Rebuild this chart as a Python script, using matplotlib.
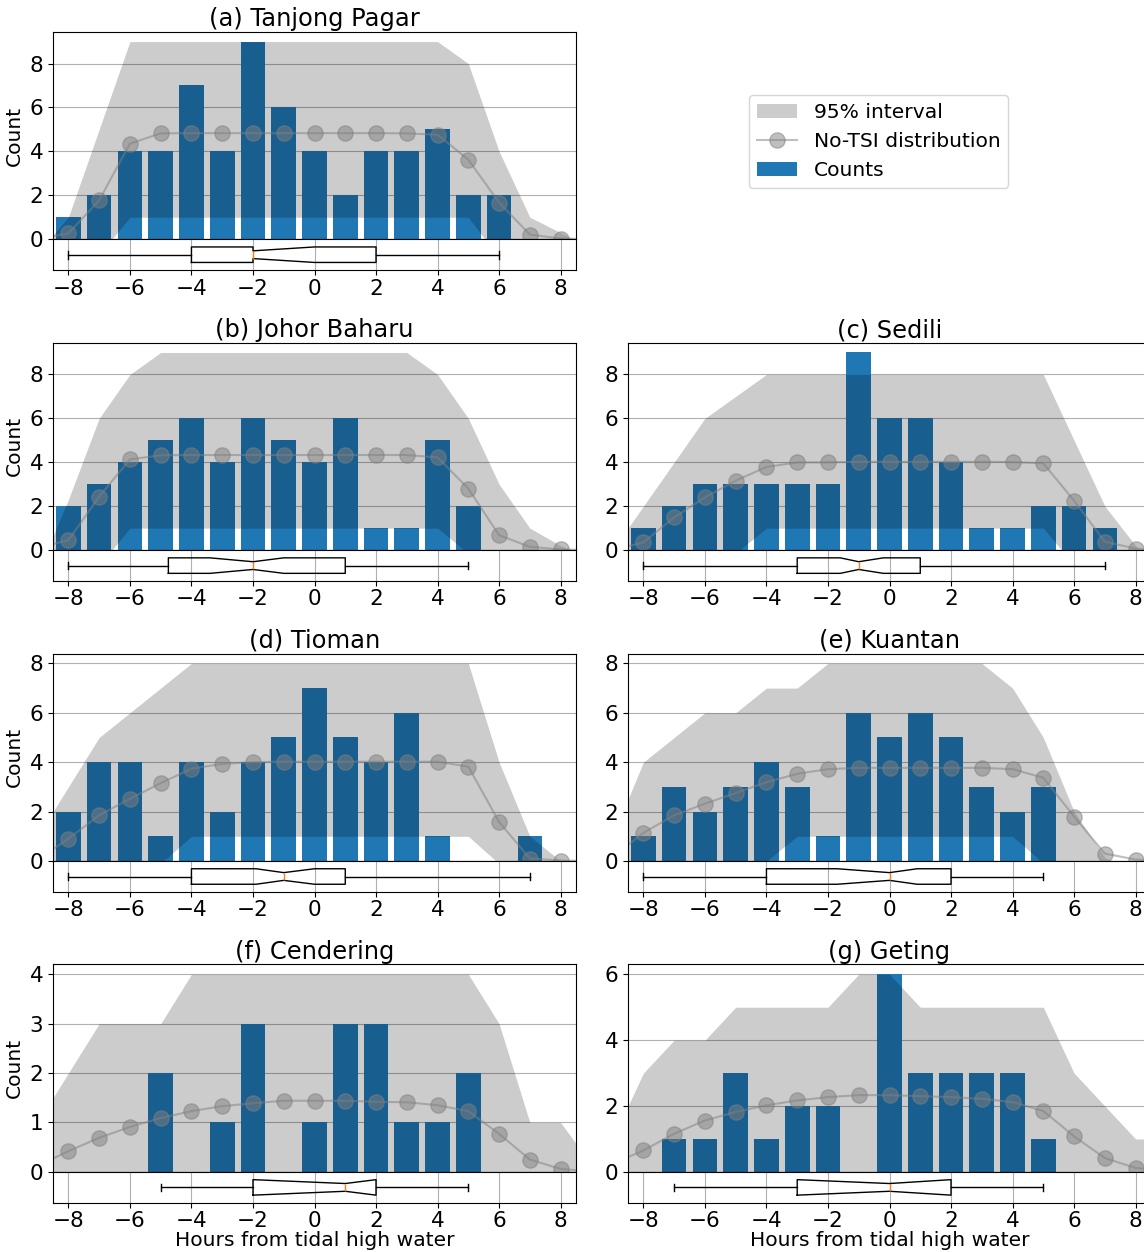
import matplotlib.pyplot as plt
import numpy as np
from matplotlib.lines import Line2D
from matplotlib.patches import Patch
from matplotlib.ticker import MaxNLocator

plt.rcParams["font.size"] = 14.6
plt.rcParams["xtick.labelsize"] = 15.5
plt.rcParams["ytick.labelsize"] = 15.5

# hour grid for the interval / no-TSI curve, and for the observed counts
HOURS = np.arange(-9, 10)
BAR_HOURS = np.arange(-8, 9)

titles = ["(a) Tanjong Pagar", "(b) Johor Baharu", "(c) Sedili", "(d) Tioman",
          "(e) Kuantan", "(f) Cendering", "(g) Geting"]

# observed counts, hours -8 .. 8
counts_a = [1, 2, 4, 4, 7, 4, 9, 6, 4, 2, 4, 4, 5, 2, 2, 0, 0]
counts_b = [2, 3, 4, 5, 6, 4, 6, 5, 4, 6, 1, 1, 5, 2, 0, 0, 0]
counts_c = [1, 2, 3, 3, 3, 3, 3, 9, 6, 6, 4, 1, 1, 2, 2, 1, 0]
counts_d = [2, 4, 4, 1, 4, 2, 4, 5, 7, 5, 4, 6, 1, 0, 0, 1, 0]
counts_e = [1, 3, 2, 3, 4, 3, 1, 6, 5, 6, 5, 3, 2, 3, 0, 0, 0]
counts_f = [0, 0, 0, 2, 0, 1, 3, 0, 1, 3, 3, 1, 1, 2, 0, 0, 0]
counts_g = [0, 1, 1, 3, 1, 2, 2, 0, 6, 3, 3, 3, 3, 1, 0, 0, 0]

# 95% interval bounds, hours -9 .. 9
upper_a = [-0.6, 1, 5, 9, 9, 9, 9, 9, 9, 9, 9, 9, 9, 9, 8, 4, 1, 0.3, -0.4]
upper_b = [-1, 2.3, 6, 8, 9, 9, 9, 9, 9, 9, 9, 9, 9, 8, 6, 3, 1, 0.2, -0.3]
upper_c = [0, 2, 4, 6, 7, 8, 8, 8, 8, 8, 8, 8, 8, 8, 8, 5, 2, 0.2, -1.5]
upper_d = [1, 3, 5, 6, 7, 8, 8, 8, 8, 8, 8, 8, 8, 8, 8, 4, 1, 0, -0.5]
upper_e = [1, 4, 5, 6, 6, 7, 7, 8, 8, 8, 8, 8, 8, 7, 5, 2, 0.15, -0.5, -1]
upper_f = [1, 2, 3, 3, 3, 4, 4, 4, 4, 4, 4, 4, 4, 4, 4, 3, 1, 1, 0.15]
upper_g = [1, 3, 4, 4, 5, 5, 5, 5, 6, 6, 5, 5, 5, 5, 5, 3, 2, 1, 1]

lower_a = [0, 0, -0.7, 1, 1, 1, 1, 1, 1, 1, 1, 1, 1, 1, 1, -0.85, 0, 0, 0]
lower_b = [0, 0, -0.7, 1, 1, 1, 1, 1, 1, 1, 1, 1, 1, 1, -0.16, 0, 0, 0, 0]
lower_c = [0, 0, 0, 0, -0.14, 1, 1, 1, 1, 1, 1, 1, 1, 1, 1, -0.67, 0, 0, 0]
lower_d = [0, 0, 0, 0, -0.1, 1, 1, 1, 1, 1, 1, 1, 1, 1, 1, -0.11, 0, 0, 0]
lower_e = [0, 0, 0, 0, 0, 0, 1, 1, 1, 1, 1, 1, 1, 1, -0.09, 0, 0, 0, 0]
lower_f = [0] * 19
lower_g = [0] * 19

# expected counts without tide-surge interaction, hours -9 .. 9
notsi_a = [0.02, 0.26, 1.77, 4.35, 4.82, 4.83, 4.83, 4.83, 4.83, 4.83,
           4.83, 4.83, 4.82, 4.76, 3.62, 1.67, 0.21, 0.03, 0.0]
notsi_b = [0.1, 0.45, 2.43, 4.13, 4.32, 4.33, 4.33, 4.33, 4.33, 4.33,
           4.33, 4.33, 4.33, 4.22, 2.8, 0.68, 0.15, 0.03, 0.0]
notsi_c = [0.0, 0.35, 1.49, 2.4, 3.16, 3.79, 3.99, 4.0, 4.02, 4.02,
           4.02, 4.02, 4.02, 4.01, 3.95, 2.25, 0.38, 0.07, 0.0]
notsi_d = [0.05, 0.9, 1.85, 2.52, 3.15, 3.74, 3.93, 4.0, 4.02, 4.02,
           4.02, 4.02, 4.02, 4.02, 3.82, 1.58, 0.1, 0.02, 0.0]
notsi_e = [0.15, 1.14, 1.85, 2.32, 2.75, 3.19, 3.53, 3.72, 3.77, 3.77,
           3.77, 3.77, 3.77, 3.72, 3.37, 1.8, 0.3, 0.06, 0.0]
notsi_f = [0.12, 0.42, 0.69, 0.91, 1.09, 1.23, 1.33, 1.39, 1.44, 1.44,
           1.44, 1.42, 1.41, 1.35, 1.23, 0.77, 0.25, 0.06, 0.01]
notsi_g = [0.25, 0.65, 1.16, 1.56, 1.82, 2.02, 2.17, 2.27, 2.33, 2.33,
           2.3, 2.27, 2.22, 2.12, 1.85, 1.08, 0.42, 0.12, 0.03]

# confidence interval of the median used for the notches
notches = [(-2, 0), (-3.4, -1.0), (-1.6, -0.2), (-1.9, 0.0),
           (-1.7, 0.9), (-2, 2), (-3, 2)]

stations = list(zip(
    titles,
    [counts_a, counts_b, counts_c, counts_d, counts_e, counts_f, counts_g],
    [upper_a, upper_b, upper_c, upper_d, upper_e, upper_f, upper_g],
    [lower_a, lower_b, lower_c, lower_d, lower_e, lower_f, lower_g],
    [notsi_a, notsi_b, notsi_c, notsi_d, notsi_e, notsi_f, notsi_g],
    notches,
))

# panel slots (row, col); the top-right slot holds the legend
slots = [(0, 0), (1, 0), (1, 1), (2, 0), (2, 1), (3, 0), (3, 1)]

W, H = 1144, 1252
fig = plt.figure(figsize=(W / 100, H / 100), dpi=100)

col_left = [53, 628]
ax_w = 523
main_h = 207.5
box_h = 31
row_top0 = 31.7
row_step = 310.9


def panel(title, counts, upper, lower, notsi, notch, row, col):
    top = row_top0 + row * row_step
    x0 = col_left[col]
    ax = fig.add_axes([x0 / W, 1 - (top + main_h) / H, ax_w / W, main_h / H])
    axb = fig.add_axes([x0 / W, 1 - (top + main_h + box_h) / H, ax_w / W, box_h / H],
                       sharex=ax)

    ax.set_axisbelow(True)
    ax.bar(BAR_HOURS, counts, width=0.8, color="tab:blue", label="Counts")
    ax.fill_between(HOURS, lower, upper, color="k", alpha=0.2, lw=0,
                    label="95% interval")
    ax.plot(HOURS, notsi, "-o", color="gray", alpha=0.5, lw=1.5, ms=11,
            label="No-TSI distribution")
    ax.set_xlim(-8.5, 8.5)
    ax.set_ylim(0, 1.05 * max(max(counts), max(upper)))
    ax.yaxis.set_major_locator(MaxNLocator(nbins=5, integer=True))
    ax.yaxis.grid(True)
    ax.tick_params(axis="x", bottom=False, labelbottom=False)
    ax.set_title(title, fontsize=17.4, pad=4)
    if col == 0:
        ax.set_ylabel("Count")

    events = np.repeat(BAR_HOURS, counts)
    axb.set_axisbelow(True)
    axb.boxplot(events, orientation="horizontal", notch=True,
                conf_intervals=[notch], widths=0.5)
    axb.set_yticks([])
    axb.set_xticks(np.arange(-8, 9, 2))
    axb.tick_params(axis="x", pad=2.5)
    axb.xaxis.grid(True)
    axb.set_xlim(-8.5, 8.5)
    if row == 3:
        axb.set_xlabel("Hours from tidal high water", labelpad=0)
    return ax


for (title, counts, upper, lower, notsi, notch), (row, col) in zip(stations, slots):
    panel(title, counts, upper, lower, notsi, notch, row, col)

handles = [
    Patch(facecolor="k", alpha=0.2, edgecolor="none"),
    Line2D([], [], color="gray", alpha=0.5, lw=1.5, marker="o", ms=11),
    Patch(facecolor="tab:blue"),
]
labels = ["95% interval", "No-TSI distribution", "Counts"]
fig.legend(handles, labels, loc="center",
           bbox_to_anchor=(878.5 / W, 1 - 141.5 / H))

fig.savefig("out.png", dpi=100)
